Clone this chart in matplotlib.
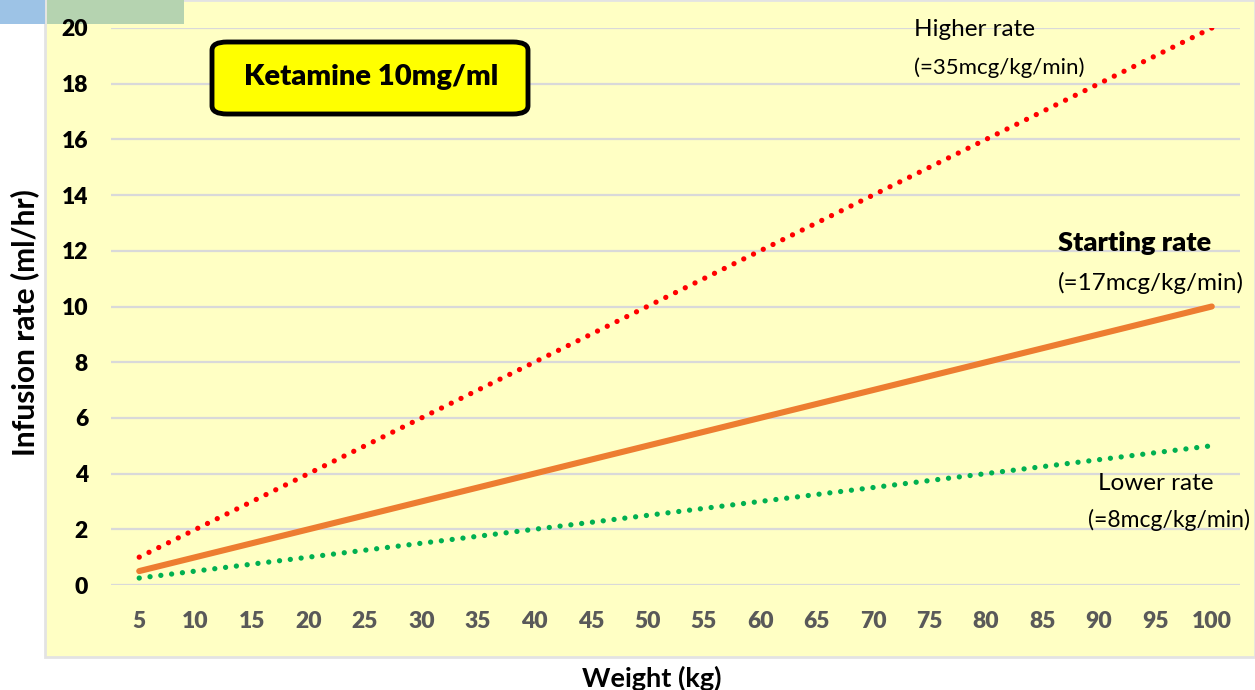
import matplotlib
matplotlib.use("Agg")
import matplotlib.pyplot as plt
from matplotlib.patches import Rectangle, FancyBboxPatch

plt.rcParams['font.family'] = ['Lato', 'DejaVu Sans']

weights = [5, 10, 15, 20, 25, 30, 35, 40, 45, 50, 55, 60, 65, 70, 75, 80, 85, 90, 95, 100]
higher = [1, 2, 3, 4, 5, 6, 7, 8, 9, 10, 11, 12, 13, 14, 15, 16, 17, 18, 19, 20]
starting = [0.5, 1, 1.5, 2, 2.5, 3, 3.5, 4, 4.5, 5, 5.5, 6, 6.5, 7, 7.5, 8, 8.5, 9, 9.5, 10]
lower = [0.25, 0.5, 0.75, 1, 1.25, 1.5, 1.75, 2, 2.25, 2.5, 2.75, 3, 3.25, 3.5, 3.75, 4, 4.25, 4.5, 4.75, 5]
yticks = [0, 2, 4, 6, 8, 10, 12, 14, 16, 18, 20]

W, H = 1255, 690
fig = plt.figure(figsize=(12.55, 6.90), dpi=100)
fig.patch.set_facecolor('white')

# chart area background + corner decorations
fig.patches.append(Rectangle((45 / W, 1 - 657 / H), (W - 45) / W, 657 / H, transform=fig.transFigure,
                             facecolor='#FFFFC4', edgecolor='#E3E3E3', lw=2, zorder=0))
fig.patches.append(Rectangle((0, 1 - 24 / H), 45 / W, 24 / H, transform=fig.transFigure,
                             facecolor='#9DC3E6', edgecolor='none', zorder=1))
fig.patches.append(Rectangle((47 / W, 1 - 24 / H), 137 / W, 24 / H, transform=fig.transFigure,
                             facecolor='#B5D3B0', edgecolor='none', zorder=1))

ax = fig.add_axes([111 / W, 1 - 585 / H, (1240 - 111) / W, (585 - 28) / H])
ax.set_zorder(2)
ax.set_facecolor('none')
ax.set_xlim(2.5, 102.5)
ax.set_ylim(0, 20)

for s in ax.spines.values():
    s.set_visible(False)
ax.tick_params(axis='both', length=0)
ax.tick_params(axis='y', pad=16.5)
ax.tick_params(axis='x', pad=19)
ax.set_yticks(yticks)
ax.set_yticklabels([str(v) for v in yticks])
ax.set_xticks(weights)
ax.set_xticklabels([str(v) for v in weights])
for t in ax.get_yticklabels():
    t.set_fontsize(16.5)
    t.set_fontweight('heavy')
    t.set_color('black')
for t in ax.get_xticklabels():
    t.set_fontsize(16.5)
    t.set_fontweight('heavy')
    t.set_color('#595959')
ax.grid(axis='y', color='#D9D9D9', lw=1.6)
ax.set_axisbelow(True)

ax.plot(weights, higher, color='#FF0000', lw=3.8, linestyle=(0, (0.01, 2.05)),
        dash_capstyle='round', zorder=3)
ax.plot(weights, starting, color='#ED7D31', lw=4.4, solid_capstyle='round', zorder=3)
ax.plot(weights, lower, color='#00B050', lw=3.8, linestyle=(0, (0.01, 2.05)),
        dash_capstyle='round', zorder=3)

fig.text(25 / W, 1 - 323 / H, 'Infusion rate (ml/hr)', rotation=90, ha='center', va='center',
         fontsize=21.5, fontweight='bold')
fig.text(652 / W, 1 - 678 / H, 'Weight (kg)', ha='center', va='center',
         fontsize=19.5, fontweight='bold')

# title box
fig.patches.append(FancyBboxPatch((212 / W, 1 - 114 / H), 316 / W, 72 / H, transform=fig.transFigure,
                                  boxstyle='round,pad=0,rounding_size=0.012',
                                  facecolor='#FFFF00', edgecolor='black', lw=3.5, zorder=5))
fig.text(371 / W, 1 - 77 / H, 'Ketamine 10mg/ml', ha='center', va='center',
         fontsize=21, fontweight='heavy', zorder=6)

fig.text(914 / W, 1 - 30 / H, 'Higher rate', ha='left', va='center', fontsize=17.5, zorder=6)
fig.text(914 / W, 1 - 68 / H, '(=35mcg/kg/min)', ha='left', va='center', fontsize=16, zorder=6)
fig.text(1058 / W, 1 - 243 / H, 'Starting rate', ha='left', va='center', fontsize=19.5,
         fontweight='heavy', zorder=6)
fig.text(1058 / W, 1 - 283 / H, '(=17mcg/kg/min)', ha='left', va='center', fontsize=17.5, zorder=6)
fig.text(1098 / W, 1 - 484 / H, 'Lower rate', ha='left', va='center', fontsize=17.5, zorder=6)
fig.text(1088 / W, 1 - 520 / H, '(=8mcg/kg/min)', ha='left', va='center', fontsize=16.5, zorder=6)

fig.savefig('out.png', dpi=100)
